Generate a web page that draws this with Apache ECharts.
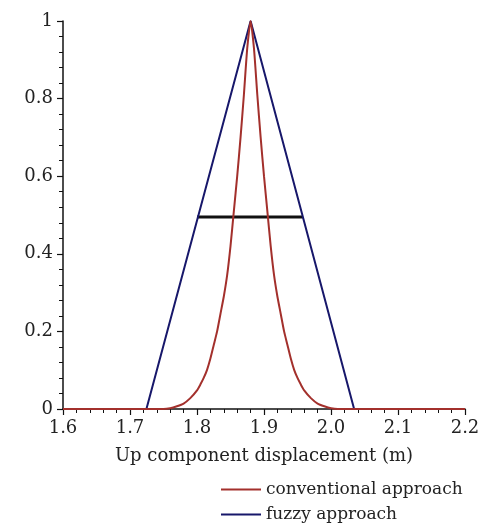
<!DOCTYPE html>
<html>
<head>
<meta charset="utf-8">
<script src="https://cdn.jsdelivr.net/npm/echarts@6/dist/echarts.min.js"></script>
<style>
html,body{margin:0;padding:0;background:#fff;}
#chart{width:484px;height:529px;}
</style>
</head>
<body>
<div id="chart"></div>
<script>
// values
var seriesNames = ['conventional approach', 'fuzzy approach'];
var xTicks = [1.6, 1.7, 1.8, 1.9, 2.0, 2.1, 2.2];
var yTicks = [0, 0.2, 0.4, 0.6, 0.8, 1];

var convX = [1.6, 1.70, 1.75, 1.76, 1.77, 1.78, 1.79, 1.80, 1.805, 1.81, 1.815, 1.82, 1.825, 1.83, 1.835,
	1.84, 1.845, 1.85, 1.855, 1.86, 1.865, 1.87, 1.875, 1.88,
	1.885, 1.89, 1.895, 1.90, 1.905, 1.91, 1.915, 1.92, 1.925, 1.93, 1.935, 1.94, 1.945, 1.95, 1.955,
	1.96, 1.97, 1.98, 1.99, 2.00, 2.01, 2.06, 2.2];
var convY = [0, 0, 0, 0.002, 0.007, 0.014, 0.028, 0.048, 0.063, 0.08, 0.101, 0.13, 0.165, 0.20, 0.245,
	0.29, 0.345, 0.42, 0.51, 0.60, 0.70, 0.81, 0.93, 1,
	0.93, 0.81, 0.70, 0.60, 0.51, 0.42, 0.345, 0.29, 0.245, 0.20, 0.165, 0.13, 0.101, 0.08, 0.063,
	0.048, 0.028, 0.014, 0.007, 0.002, 0, 0, 0];

var fuzzyX = [1.7245, 1.88, 2.0345];
var fuzzyY = [0, 1, 0];

var halfX = [1.80, 1.958];
var halfY = [0.495, 0.495];

var textFont = 'DejaVu Serif';
var textColor = '#222';

var pairs = function(xs, ys){
	var out = [];
	for (var i = 0; i < xs.length; i++) {
		out.push([xs[i], ys[i]]);
	}
	return out;
};

var fmt = function(v){
	if (v === 0) return '0';
	if (v === 1) return '1';
	return v.toFixed(1);
};

var axisCommon = {
	type: 'value',
	splitLine: {show: false},
	axisLine: {show: true, lineStyle: {color: '#111', width: 1.5}},
	axisTick: {show: true, length: 6, lineStyle: {color: '#111', width: 1.2}},
	minorTick: {show: true, splitNumber: 5, length: 4, lineStyle: {color: '#111', width: 1}},
	axisLabel: {fontFamily: textFont, fontSize: 18, color: textColor, formatter: fmt}
};

var myChart = echarts.init(document.getElementById('chart'));
myChart.setOption({
	backgroundColor: '#fff',
	animation: false,
	grid: {left: 63, right: 19, top: 21, bottom: 120, containLabel: false},
	legend: {
		orient: 'vertical',
		left: 216,
		top: 476,
		itemGap: 8,
		itemWidth: 40,
		itemHeight: 2,
		icon: 'rect',
		data: seriesNames,
		textStyle: {fontFamily: textFont, fontSize: 17, color: textColor, padding: [0, 0, 0, 0]}
	},
	xAxis: echarts.util.merge({
		min: xTicks[0],
		max: xTicks[xTicks.length - 1],
		interval: 0.1,
		name: 'Up component displacement (m)',
		nameLocation: 'middle',
		nameGap: 38,
		nameTextStyle: {fontFamily: textFont, fontSize: 18, color: textColor},
		axisLabel: {margin: 10}
	}, axisCommon),
	yAxis: echarts.util.merge({
		min: yTicks[0],
		max: yTicks[yTicks.length - 1],
		interval: 0.2,
		axisLabel: {margin: 10}
	}, axisCommon),
	series: [
		{
			name: 'half',
			type: 'line',
			data: pairs(halfX, halfY),
			symbol: 'none',
			lineStyle: {color: '#111', width: 3},
			z: 1
		},
		{
			name: seriesNames[1],
			type: 'line',
			data: pairs(fuzzyX, fuzzyY),
			symbol: 'none',
			color: '#17176a',
			lineStyle: {color: '#17176a', width: 2},
			z: 2
		},
		{
			name: seriesNames[0],
			type: 'line',
			data: pairs(convX, convY),
			symbol: 'none',
			smooth: 0.2,
			color: '#a3302c',
			lineStyle: {color: '#a3302c', width: 2},
			z: 3
		}
	]
});
</script>
</body>
</html>
